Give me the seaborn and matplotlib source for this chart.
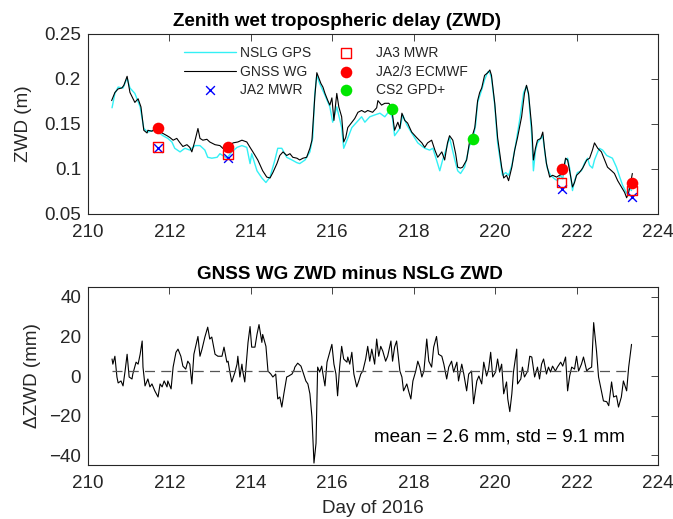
import numpy as np
import pandas as pd
import matplotlib
matplotlib.use("Agg")
import matplotlib.pyplot as plt
import seaborn as sns

# ---------------- data ----------------
wg_day = [210.58, 210.66, 210.74, 210.83, 210.88, 210.96, 211.03, 211.15, 211.23, 211.30,
          211.33, 211.37, 211.45, 211.47, 211.57, 211.64, 211.72, 211.82, 211.94, 212.01,
          212.09, 212.18, 212.26, 212.33, 212.43, 212.50, 212.55, 212.63, 212.70, 212.75,
          212.82, 212.92, 212.99, 213.12, 213.24, 213.31, 213.39, 213.44, 213.48, 213.56,
          213.68, 213.78, 213.90, 213.98, 214.05, 214.17, 214.29, 214.39, 214.47, 214.54,
          214.64, 214.71, 214.79, 214.88, 214.96, 215.03, 215.13, 215.20, 215.28, 215.37,
          215.45, 215.50, 215.52, 215.57, 215.62, 215.67, 215.72, 215.77, 215.82, 215.89,
          215.94, 215.99, 216.04, 216.11, 216.16, 216.23, 216.28, 216.33, 216.38, 216.48,
          216.55, 216.63, 216.72, 216.80, 216.87, 216.99, 217.09, 217.12, 217.21, 217.29,
          217.39, 217.46, 217.48, 217.53, 217.61, 217.66, 217.71, 217.78, 217.85, 217.95,
          218.07, 218.20, 218.27, 218.34, 218.44, 218.52, 218.59, 218.69, 218.76, 218.83,
          218.88, 218.96, 219.03, 219.08, 219.15, 219.20, 219.30, 219.37, 219.42, 219.50,
          219.57, 219.62, 219.67, 219.74, 219.82, 219.87, 219.91, 219.99, 220.06, 220.16,
          220.21, 220.28, 220.33, 220.41, 220.48, 220.55, 220.65, 220.72, 220.77, 220.82,
          220.90, 220.94, 220.99, 221.04, 221.12, 221.17, 221.21, 221.26, 221.34, 221.41,
          221.51, 221.58, 221.66, 221.73, 221.78, 221.83, 221.90, 221.95, 222.00, 222.07,
          222.15, 222.25, 222.32, 222.39, 222.44, 222.52, 222.61, 222.69, 222.76, 222.86,
          222.93, 223.01, 223.10, 223.18, 223.23, 223.28, 223.33, 223.37]
wg_zwd = [0.176, 0.185, 0.189, 0.190, 0.193, 0.203, 0.185, 0.174, 0.178, 0.169,
          0.158, 0.143, 0.140, 0.143, 0.142, 0.144, 0.145, 0.140, 0.137, 0.135,
          0.132, 0.134, 0.129, 0.125, 0.127, 0.124, 0.119, 0.132, 0.145, 0.134,
          0.132, 0.133, 0.130, 0.127, 0.126, 0.123, 0.119, 0.124, 0.124, 0.129,
          0.130, 0.132, 0.130, 0.124, 0.119, 0.110, 0.098, 0.091, 0.090, 0.096,
          0.106, 0.115, 0.119, 0.115, 0.117, 0.113, 0.112, 0.110, 0.112, 0.113,
          0.123, 0.132, 0.146, 0.180, 0.207, 0.201, 0.195, 0.191, 0.184, 0.176,
          0.171, 0.179, 0.154, 0.184, 0.169, 0.158, 0.130, 0.135, 0.146, 0.152,
          0.156, 0.163, 0.165, 0.163, 0.165, 0.163, 0.168, 0.176, 0.171, 0.173,
          0.173, 0.168, 0.160, 0.143, 0.152, 0.145, 0.162, 0.154, 0.151, 0.141,
          0.135, 0.129, 0.124, 0.129, 0.132, 0.121, 0.113, 0.119, 0.110, 0.129,
          0.137, 0.132, 0.117, 0.102, 0.101, 0.102, 0.110, 0.130, 0.134, 0.146,
          0.176, 0.185, 0.190, 0.204, 0.207, 0.210, 0.204, 0.173, 0.135, 0.102,
          0.090, 0.093, 0.087, 0.102, 0.121, 0.135, 0.158, 0.184, 0.193, 0.184,
          0.146, 0.110, 0.123, 0.132, 0.134, 0.141, 0.124, 0.106, 0.091, 0.093,
          0.091, 0.093, 0.095, 0.112, 0.110, 0.098, 0.080, 0.085, 0.093, 0.096,
          0.101, 0.110, 0.112, 0.121, 0.129, 0.123, 0.119, 0.110, 0.102, 0.098,
          0.095, 0.087, 0.080, 0.074, 0.068, 0.074, 0.085, 0.095]

gps_day = [210.59, 210.66, 210.74, 210.86, 210.96, 211.03, 211.15, 211.28, 211.33, 211.37,
           211.47, 211.60, 211.72, 211.84, 211.96, 212.06, 212.13, 212.26, 212.38, 212.50,
           212.63, 212.75, 212.87, 212.94, 213.04, 213.17, 213.24, 213.31, 213.41, 213.53,
           213.66, 213.78, 213.90, 213.98, 214.02, 214.15, 214.27, 214.37, 214.47, 214.59,
           214.66, 214.76, 214.88, 215.01, 215.13, 215.20, 215.33, 215.45, 215.52, 215.57,
           215.62, 215.69, 215.82, 215.94, 216.01, 216.11, 216.23, 216.28, 216.36, 216.48,
           216.60, 216.72, 216.80, 216.92, 217.04, 217.17, 217.29, 217.41, 217.48, 217.53,
           217.61, 217.66, 217.73, 217.83, 217.95, 218.10, 218.27, 218.39, 218.47, 218.56,
           218.64, 218.71, 218.81, 218.88, 219.01, 219.08, 219.15, 219.25, 219.37, 219.45,
           219.52, 219.57, 219.67, 219.74, 219.82, 219.87, 219.91, 219.99, 220.06, 220.18,
           220.26, 220.33, 220.41, 220.50, 220.60, 220.70, 220.77, 220.82, 220.90, 220.94,
           220.99, 221.04, 221.12, 221.17, 221.23, 221.28, 221.36, 221.46, 221.53, 221.61,
           221.66, 221.73, 221.78, 221.83, 221.90, 221.95, 222.02, 222.12, 222.20, 222.27,
           222.32, 222.39, 222.44, 222.52, 222.56, 222.64, 222.74, 222.88, 222.98, 223.06,
           223.13, 223.23, 223.30, 223.35]
gps_zwd = [0.168, 0.184, 0.191, 0.190, 0.201, 0.190, 0.184, 0.169, 0.156, 0.145,
           0.141, 0.143, 0.141, 0.137, 0.134, 0.130, 0.123, 0.119, 0.123, 0.121,
           0.126, 0.126, 0.121, 0.113, 0.112, 0.113, 0.117, 0.115, 0.112, 0.119,
           0.124, 0.126, 0.124, 0.106, 0.117, 0.098, 0.090, 0.085, 0.091, 0.110,
           0.123, 0.123, 0.113, 0.110, 0.107, 0.106, 0.110, 0.119, 0.135, 0.184,
           0.204, 0.195, 0.182, 0.169, 0.152, 0.169, 0.146, 0.123, 0.132, 0.146,
           0.152, 0.158, 0.152, 0.158, 0.160, 0.162, 0.158, 0.165, 0.156, 0.137,
           0.142, 0.145, 0.160, 0.149, 0.140, 0.129, 0.123, 0.121, 0.123, 0.110,
           0.098, 0.110, 0.124, 0.135, 0.110, 0.098, 0.095, 0.102, 0.126, 0.132,
           0.149, 0.174, 0.188, 0.199, 0.208, 0.207, 0.201, 0.171, 0.129, 0.093,
           0.096, 0.093, 0.104, 0.126, 0.154, 0.185, 0.192, 0.182, 0.137, 0.098,
           0.120, 0.129, 0.134, 0.137, 0.115, 0.101, 0.093, 0.089, 0.087, 0.093,
           0.089, 0.110, 0.112, 0.101, 0.076, 0.087, 0.096, 0.098, 0.107, 0.112,
           0.104, 0.101, 0.110, 0.119, 0.123, 0.121, 0.115, 0.112, 0.102, 0.091,
           0.082, 0.073, 0.079, 0.076]

alt_day = [211.72, 213.44, 221.63, 223.37]
ja2_mwr = [0.123, 0.112, 0.078, 0.069]
ja3_mwr = [0.124, 0.116, 0.085, 0.076]
ecmwf = [0.145, 0.124, 0.0996, 0.084]
cs2_day = [217.46, 219.45]
cs2_gpd = [0.167, 0.133]

diff_day = [210.59, 210.61, 210.66, 210.71, 210.74, 210.81, 210.86, 210.91, 210.96, 211.01,
            211.08, 211.10, 211.18, 211.23, 211.28, 211.33, 211.35, 211.40, 211.47, 211.52,
            211.57, 211.64, 211.72, 211.77, 211.82, 211.87, 211.94, 211.96, 212.04, 212.09,
            212.16, 212.21, 212.28, 212.33, 212.40, 212.45, 212.50, 212.55, 212.60, 212.70,
            212.75, 212.80, 212.87, 212.94, 212.99, 213.04, 213.12, 213.19, 213.29, 213.34,
            213.41, 213.44, 213.48, 213.53, 213.61, 213.66, 213.68, 213.73, 213.78, 213.80,
            213.85, 213.93, 213.98, 214.02, 214.10, 214.15, 214.20, 214.27, 214.29, 214.37,
            214.42, 214.49, 214.54, 214.61, 214.66, 214.71, 214.76, 214.81, 214.88, 214.93,
            215.01, 215.06, 215.08, 215.15, 215.23, 215.28, 215.35, 215.40, 215.45, 215.50,
            215.55, 215.60, 215.64, 215.69, 215.74, 215.77, 215.82, 215.87, 215.91, 215.99,
            216.04, 216.09, 216.13, 216.18, 216.23, 216.28, 216.36, 216.38, 216.43, 216.48,
            216.53, 216.60, 216.65, 216.70, 216.75, 216.82, 216.87, 216.92, 216.97, 217.04,
            217.09, 217.14, 217.19, 217.24, 217.31, 217.36, 217.44, 217.48, 217.53, 217.58,
            217.66, 217.71, 217.75, 217.83, 217.88, 217.93, 217.98, 218.05, 218.10, 218.15,
            218.20, 218.25, 218.32, 218.37, 218.44, 218.49, 218.56, 218.61, 218.69, 218.74,
            218.81, 218.86, 218.93, 218.98, 219.06, 219.10, 219.18, 219.23, 219.30, 219.35,
            219.42, 219.47, 219.55, 219.60, 219.67, 219.72, 219.79, 219.84, 219.89, 219.94,
            220.01, 220.06, 220.11, 220.16, 220.21, 220.28, 220.31, 220.36, 220.41, 220.45,
            220.53, 220.55, 220.63, 220.67, 220.72, 220.80, 220.85, 220.90, 220.97, 221.04,
            221.09, 221.14, 221.19, 221.26, 221.31, 221.36, 221.41, 221.48, 221.53, 221.61,
            221.66, 221.73, 221.78, 221.83, 221.88, 221.95, 222.00, 222.05, 222.12, 222.17,
            222.25, 222.29, 222.37, 222.42, 222.49, 222.54, 222.61, 222.66, 222.74, 222.79,
            222.86, 222.91, 222.98, 223.03, 223.10, 223.15, 223.23, 223.28, 223.35]
diff_mm = [8.6, 6, 10, -0.5, -3.5, -2.5, -5, 2.5, 11, -0.5,
           -1.5, 1, 7, 6, 11, 17.7, 4.5, -5, -1.5, -5.5,
           -4, -7.5, -10.6, -4, -5.5, -2.5, -5.5, -2.5, -6.5, 4.5,
           12, 13.6, 10, 5, 3.5, 7.5, 6, -4, 11, 20,
           10, 13.6, 19.7, 24.7, 18.7, 19.7, 11, 10, 10, 14.6,
           7, 7.5, 2.5, -3, 2, 6, 10, -0.5, 6, 2.5,
           -3, 17, 25, 14.6, 14.6, 21, 26, 17, 21, 15,
           2.5, 1, -0.5, 1, -11.6, -10.6, -15.7, -9, -0.5, 0,
           1, 3, 4.5, 6.5, 5, 2, -2.5, -4, -9, -20.7,
           -44, -34, 4.5, 2, 5, 1, -5, 7, 10, 16,
           6, 1, -10, 4.5, 15, 8.6, 7, 9.6, 6, 12,
           1, -5.5, -2.5, 1, 2.5, 8.6, 15, 7.5, 13.6, 6,
           18.7, 10, 15, 12.6, 7.5, 10, 17.7, 7.5, 14.6, 17.7,
           2.5, -0.5, -7.5, -4, -8, -11.6, -2.5, 2.5, 7.5, 4.5,
           -0.5, 2.5, 18.7, 7.5, 4.5, 14.6, 20, 11, 10, 6,
           -1.5, 4.5, 7.5, 2, 7, -2.5, 6, 1, -7.5, 1,
           2.5, -14, -2.5, 0, -4, 7, 0, 3.5, 12, -0.5,
           2, 8.6, 2, 6, -9, -3, -11.6, -18, -9, 2,
           13.6, -4, -1.5, 4.5, -0.5, 2.5, 10, 9.6, -0.5, 4.5,
           -1.5, 6, 8.6, 1, 4.5, 2, 5, 2.5, 4.5, 7,
           5, 9.6, -7.5, 0, 4.5, 3.5, 10, 2.5, 6, 9.6,
           2.5, 3.5, 4.5, 27, 12.6, -0.5, -7.5, -12.6, -13, -15,
           -3, -10.6, -10, -15.7, -10.6, -2.5, -7.5, 4.5, 16]
diff_mean = 2.6
diff_std = 9.1

x_ticks = [210, 212, 214, 216, 218, 220, 222, 224]
top_yticks = [0.05, 0.1, 0.15, 0.2, 0.25]
top_yticklabels = ["0.05", "0.1", "0.15", "0.2", "0.25"]
bot_yticks = [-40, -20, 0, 20, 40]

# ---------------- style ----------------
sns.set_theme(style="white")
plt.rcParams["font.family"] = ["Liberation Sans", "DejaVu Sans"]
plt.rcParams["axes.edgecolor"] = "#262626"
plt.rcParams["axes.linewidth"] = 0.8
FS = 13.6
txt_col = "#262626"

fig = plt.figure(figsize=(6.73, 5.19), dpi=100)
ax1 = fig.add_axes([0.1308, 0.5877, 0.8469, 0.3468])
ax2 = fig.add_axes([0.1308, 0.1040, 0.8469, 0.3430])

# ---------------- top panel ----------------
sns.lineplot(x=gps_day, y=gps_zwd, ax=ax1, color="#33f0f5", lw=1.0,
             label="NSLG GPS", estimator=None, sort=False)
sns.lineplot(x=wg_day, y=wg_zwd, ax=ax1, color="black", lw=0.8,
             label="GNSS WG", estimator=None, sort=False)
sns.scatterplot(x=alt_day, y=ja2_mwr, ax=ax1, marker="x", color="blue",
                s=40, linewidth=1.0, label="JA2 MWR", zorder=5)
sns.scatterplot(x=alt_day, y=ja3_mwr, ax=ax1, marker="s", facecolor="none",
                edgecolor="red", s=50, linewidth=1.0, label="JA3 MWR", zorder=5)
sns.scatterplot(x=alt_day, y=ecmwf, ax=ax1, marker="o", color="red",
                edgecolor="red", s=70, linewidth=0, label="JA2/3 ECMWF", zorder=6)
sns.scatterplot(x=cs2_day, y=cs2_gpd, ax=ax1, marker="o", color="#00e600",
                edgecolor="#00e600", s=70, linewidth=0, label="CS2 GPD+", zorder=6)

ax1.set_xlim(210, 224)
ax1.set_ylim(0.05, 0.25)
ax1.set_xticks(x_ticks)
ax1.set_yticks(top_yticks)
ax1.set_yticklabels(top_yticklabels)
ax1.set_ylabel("ZWD (m)", fontsize=FS, color=txt_col, labelpad=8.5)
ax1.set_title("Zenith wet tropospheric delay (ZWD)", fontsize=FS,
              fontweight="bold", color="black", pad=6, x=0.437)

handles, labels = ax1.get_legend_handles_labels()
order = ["NSLG GPS", "GNSS WG", "JA2 MWR", "JA3 MWR", "JA2/3 ECMWF", "CS2 GPD+"]
hmap = dict(zip(labels, handles))
ax1.legend([hmap[k] for k in order], order, ncol=2, frameon=False,
           fontsize=10, loc="upper left", bbox_to_anchor=(0.157, 0.972),
           borderpad=0, handlelength=3.7, handletextpad=0.3,
           columnspacing=0.65, labelspacing=0.33)

# ---------------- bottom panel ----------------
sns.lineplot(x=diff_day, y=diff_mm, ax=ax2, color="black", lw=0.8,
             estimator=None, sort=False)
ax2.plot([diff_day[0], diff_day[-1]], [diff_mean, diff_mean], ls=(0, (8, 5)),
         color="#555555", lw=0.9)
ax2.set_xlim(210, 224)
ax2.set_ylim(-45, 45)
ax2.set_xticks(x_ticks)
ax2.set_yticks(bot_yticks)
ax2.set_ylabel("\u0394ZWD (mm)", fontsize=FS, color=txt_col, labelpad=6)
ax2.set_xlabel("Day of 2016", fontsize=FS, color=txt_col, labelpad=6)
ax2.set_title("GNSS WG ZWD minus NSLG ZWD", fontsize=FS, fontweight="bold",
              color="black", pad=6, x=0.459)
ax2.text(220.1, -31, f"mean = {diff_mean} mm, std = {diff_std} mm",
         fontsize=FS, ha="center", va="center", color="black")

for ax in (ax1, ax2):
    ax.tick_params(direction="in", top=True, right=True, length=5, width=0.6,
                   labelsize=FS, colors=txt_col)
    ax.tick_params(axis="x", pad=7)
    ax.tick_params(axis="y", pad=5)
    for sp in ax.spines.values():
        sp.set_visible(True)
        sp.set_color("#262626")

fig.savefig("out.png", dpi=100)
